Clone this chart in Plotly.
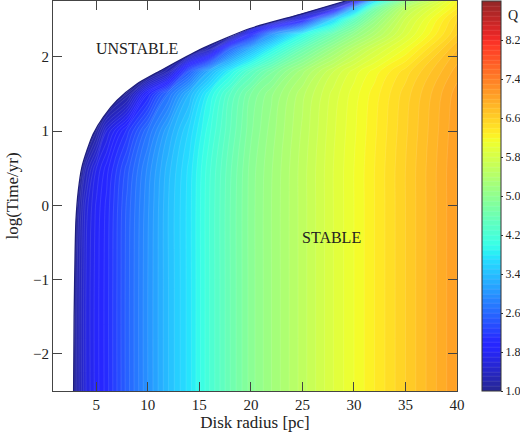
import numpy as np
import plotly.graph_objects as go

# ---- data ----
radius = [0.8, 2, 3, 4, 5, 6, 8, 10, 12, 14, 16, 18, 20, 22, 25, 28, 30, 32, 35, 40]
log_time = [-2.5, -1.0, 0.0, 0.5, 1.0, 1.5, 1.8, 2.1, 2.3, 2.5, 2.65, 2.75]
Q = [
    [0.20, 0.50, 1.15, 1.60, 1.85, 2.05, 2.55, 3.00, 3.40, 3.75, 4.20, 4.60, 4.95, 5.20, 5.55, 5.90, 6.10, 6.30, 6.60, 7.10],
    [0.20, 0.48, 1.14, 1.60, 1.85, 2.05, 2.55, 3.00, 3.40, 3.75, 4.20, 4.60, 4.95, 5.20, 5.55, 5.90, 6.10, 6.30, 6.60, 7.10],
    [0.15, 0.40, 1.00, 1.55, 1.82, 2.03, 2.53, 2.98, 3.40, 3.75, 4.20, 4.60, 4.95, 5.20, 5.55, 5.90, 6.10, 6.30, 6.60, 7.10],
    [0.10, 0.30, 0.70, 1.30, 1.70, 1.95, 2.45, 2.93, 3.36, 3.73, 4.18, 4.58, 4.94, 5.19, 5.55, 5.90, 6.10, 6.30, 6.60, 7.10],
    [0.05, 0.20, 0.45, 0.70, 1.10, 1.60, 2.15, 2.70, 3.20, 3.62, 4.08, 4.50, 4.88, 5.15, 5.52, 5.88, 6.08, 6.28, 6.58, 7.08],
    [0.00, 0.10, 0.25, 0.38, 0.50, 0.65, 1.10, 2.00, 2.70, 3.30, 3.90, 4.40, 4.80, 5.08, 5.47, 5.84, 6.05, 6.25, 6.55, 7.05],
    [0.00, 0.05, 0.15, 0.25, 0.35, 0.45, 0.60, 0.75, 1.30, 2.50, 3.30, 3.90, 4.40, 4.78, 5.27, 5.70, 5.95, 6.15, 6.45, 6.95],
    [0.00, 0.00, 0.05, 0.10, 0.15, 0.20, 0.30, 0.45, 0.60, 0.75, 1.30, 2.60, 3.30, 3.90, 4.60, 5.15, 5.48, 5.77, 6.12, 6.80],
    [0.00, 0.00, 0.00, 0.05, 0.10, 0.15, 0.20, 0.30, 0.40, 0.55, 0.70, 0.90, 2.00, 3.00, 3.95, 4.65, 5.05, 5.38, 5.87, 6.60],
    [0.00, 0.00, 0.00, 0.00, 0.05, 0.10, 0.15, 0.20, 0.30, 0.40, 0.50, 0.60, 0.70, 0.90, 1.80, 3.60, 4.45, 5.05, 5.72, 6.50],
    [0.00, 0.00, 0.00, 0.00, 0.00, 0.05, 0.10, 0.15, 0.20, 0.30, 0.35, 0.40, 0.45, 0.50, 0.80, 1.50, 3.30, 4.65, 5.52, 6.30],
    [0.00, 0.00, 0.00, 0.00, 0.00, 0.00, 0.05, 0.10, 0.15, 0.20, 0.25, 0.30, 0.35, 0.40, 0.50, 0.70, 1.50, 3.70, 5.10, 6.20],
]
# edge of the unstable (white) region
boundary_r = [2.80, 2.85, 2.95, 3.03, 3.26, 3.60, 4.10, 4.70, 5.70, 7.00, 8.90, 11.2, 15.1, 19.9, 24.8, 29.2]
boundary_t = [-2.50, -1.50, -0.60, -0.20, 0.20, 0.51, 0.74, 0.96, 1.19, 1.41, 1.63, 1.81, 2.10, 2.38, 2.57, 2.75]

x_ticks = [5, 10, 15, 20, 25, 30, 35, 40]
y_ticks = [-2, -1, 0, 1, 2]
cbar_ticks = [1.0, 1.8, 2.6, 3.4, 4.2, 5.0, 5.8, 6.6, 7.4, 8.2]
x_range = [0.8, 40]
y_range = [-2.5, 2.75]

FONT = "Liberation Serif"
INK = "#222222"

# ---- jet colormap, slightly washed out ----
def jet_scale(wash=0.15):
    r_pts = ([0, 0.35, 0.66, 0.89, 1.0], [0, 0, 1, 1, 0.5])
    g_pts = ([0, 0.125, 0.375, 0.64, 0.91, 1.0], [0, 0, 1, 1, 0, 0])
    b_pts = ([0, 0.11, 0.34, 0.65, 1.0], [0.5, 1, 1, 0, 0])
    stops = sorted(set(r_pts[0] + g_pts[0] + b_pts[0]))
    out = []
    for f in stops:
        c = [np.interp(f, *p) for p in (r_pts, g_pts, b_pts)]
        c = [int(round(255 * (v * (1 - wash) + wash))) for v in c]
        out.append([f, f"rgb({c[0]},{c[1]},{c[2]})"])
    return out

fig = go.Figure()
fig.add_trace(go.Contour(
    x=radius, y=log_time, z=Q,
    colorscale=jet_scale(), zmin=1.0, zmax=9.0,
    autocontour=False,
    contours=dict(start=1.0, end=9.0, size=0.1, coloring="fill"),
    line=dict(color="rgba(255,255,255,0.22)", width=0.5, smoothing=1.0),
    hoverinfo="skip",
    colorbar=dict(
        x=1.062, xanchor="left", xpad=0, y=0.5, yanchor="middle", ypad=0,
        len=1.0, thickness=19, outlinewidth=1, outlinecolor="#333",
        tickvals=cbar_ticks, ticktext=[f"{v:.1f}" for v in cbar_ticks],
        ticks="outside", ticklen=2, tickcolor="#333",
        tickfont=dict(family=FONT, size=12, color=INK),
    ),
))

pad_x = x_range[0] - 1
mask_x = [pad_x, boundary_r[0]] + boundary_r + [boundary_r[-1], pad_x]
mask_y = [y_range[0] - 1, y_range[0] - 1] + boundary_t + [y_range[1] + 1, y_range[1] + 1]
fig.add_trace(go.Scatter(x=mask_x, y=mask_y, fill="toself", fillcolor="white",
                         mode="lines", line=dict(width=0), hoverinfo="skip", showlegend=False))
fig.add_trace(go.Scatter(x=boundary_r, y=boundary_t, mode="lines",
                         line=dict(color="rgb(30,30,125)", width=1.3, shape="spline", smoothing=0.6),
                         hoverinfo="skip", showlegend=False))

fig.add_annotation(x=8.95, y=2.11, text="UNSTABLE", showarrow=False,
                   font=dict(family=FONT, size=16, color=INK))
fig.add_annotation(x=27.8, y=-0.43, text="STABLE", showarrow=False,
                   font=dict(family=FONT, size=16, color=INK))
fig.add_annotation(x=1.139, y=0.964, xref="paper", yref="paper", text="Q", showarrow=False,
                   xanchor="center", yanchor="middle",
                   font=dict(family=FONT, size=14, color=INK))

axis_common = dict(showline=True, linecolor="#444", linewidth=1, mirror="ticks",
                   ticks="inside", ticklen=9, tickcolor="#444", showgrid=False, zeroline=False,
                   tickfont=dict(family=FONT, size=15, color=INK))
fig.update_xaxes(range=x_range, tickvals=x_ticks, title=dict(text="Disk radius [pc]", standoff=0,
                 font=dict(family=FONT, size=17, color=INK)), **axis_common)
fig.update_yaxes(range=y_range, tickvals=y_ticks, title=dict(text="log(Time/yr)", standoff=10,
                 font=dict(family=FONT, size=17, color=INK)), **axis_common)

fig.update_layout(width=520, height=435,
                  margin=dict(l=53, r=63, t=1, b=44, autoexpand=False),
                  plot_bgcolor="white", paper_bgcolor="white", showlegend=False,
                  font=dict(family=FONT, color=INK))
fig.write_html("out.html", config={"displayModeBar": False},
               post_script="document.body.style.margin='0';")
